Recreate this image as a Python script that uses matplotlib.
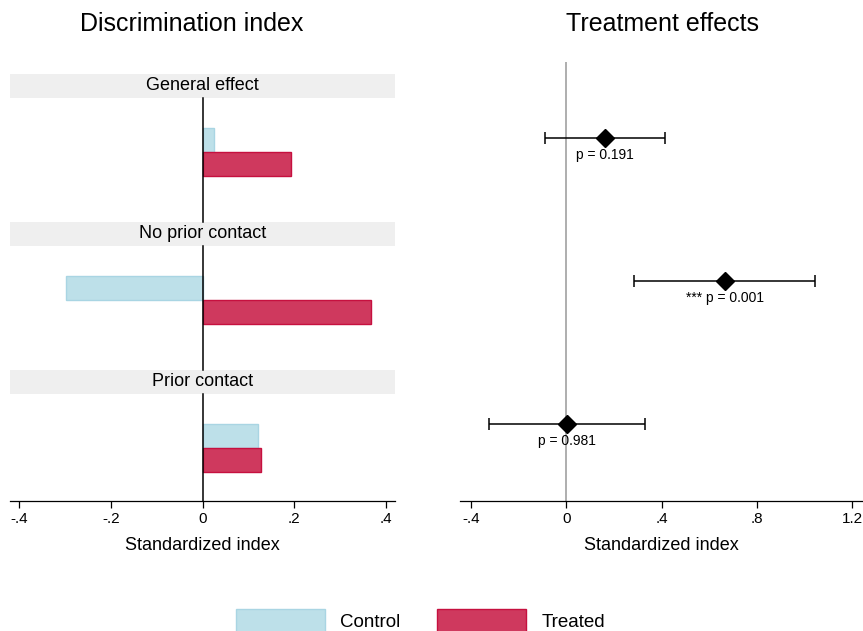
import matplotlib
matplotlib.use("Agg")
from matplotlib import pyplot as plt
from matplotlib.patches import Rectangle

plt.rcParams['font.family'] = ['Liberation Sans', 'DejaVu Sans']

# Data
groups = ["General effect", "No prior contact", "Prior contact"]
control = [0.024, -0.297, 0.122]
treated = [0.192, 0.367, 0.127]

effects = [0.163, 0.666, 0.004]
ci_low = [-0.088, 0.285, -0.322]
ci_high = [0.415, 1.043, 0.331]
p_labels = ["p = 0.191", "*** p = 0.001", "p = 0.981"]

left_ticks = [-0.4, -0.2, 0, 0.2, 0.4]
left_ticklabels = ["-.4", "-.2", "0", ".2", ".4"]
right_ticks = [-0.4, 0, 0.4, 0.8, 1.2]
right_ticklabels = ["-.4", "0", ".4", ".8", "1.2"]

# Colours
CONTROL_FILL = '#bde0e9'
CONTROL_EDGE = '#a9d5e3'
TREATED_FILL = '#cf395e'
TREATED_EDGE = '#c6103f'
STRIP = '#efefef'

W, H = 863, 631
fig = plt.figure(figsize=(W / 100, H / 100), dpi=100)

def px_axes(x0, y0, x1, y1):
    # pixel box (top-left origin) -> figure fraction
    return fig.add_axes([x0 / W, 1 - y1 / H, (x1 - x0) / W, (y1 - y0) / H])

# ---- Left panel: discrimination index
axl = px_axes(10, 74, 395, 501)
strip_h = 24 / 148
bar_h = 24 / 148
bar_off = 54 / 148
bottom = 427 / 148
axl.set_xlim(-0.42, 0.42)
axl.set_ylim(bottom, 0)

for i, g in enumerate(groups):
    axl.add_patch(Rectangle((-0.42, i), 0.84, strip_h, facecolor=STRIP,
                            edgecolor='none', zorder=1))
    axl.text(0, i + strip_h / 2, g, ha='center', va='center', fontsize=13)
    end = i + 1 if i < len(groups) - 1 else bottom
    axl.plot([0, 0], [i + strip_h, end], color='black', lw=1.1, zorder=3)
    axl.barh(i + bar_off + bar_h / 2, control[i], height=bar_h, left=0,
             color=CONTROL_FILL, edgecolor=CONTROL_EDGE, lw=1, zorder=2)
    axl.barh(i + bar_off + 1.5 * bar_h, treated[i], height=bar_h, left=0,
             color=TREATED_FILL, edgecolor=TREATED_EDGE, lw=1, zorder=2)

for s in ['top', 'right', 'left']:
    axl.spines[s].set_visible(False)
axl.spines['bottom'].set_linewidth(0.9)
axl.set_yticks([])
axl.set_xticks(left_ticks)
axl.set_xticklabels(left_ticklabels, fontsize=11)
axl.tick_params(axis='x', length=5, width=0.9, pad=3)
axl.set_xlabel("Standardized index", fontsize=13, labelpad=8)
fig.text(192 / W, 1 - 24 / H, "Discrimination index", ha='center', va='center',
         fontsize=18)

# ---- Right panel: treatment effects
axr = px_axes(460, 62, 862, 501)
axr.set_xlim(-0.445, 1.24)
axr.set_ylim(3.038, -0.031)
axr.axvline(0, color='#999999', lw=1.1, zorder=1)
for i in range(len(groups)):
    y = i + 0.5
    axr.errorbar(effects[i], y, xerr=[[effects[i] - ci_low[i]], [ci_high[i] - effects[i]]],
                 fmt='D', color='black', ms=9, elinewidth=1.1, capsize=4.5,
                 capthick=1.1, zorder=3)
    axr.text(effects[i], y + 0.12, p_labels[i], ha='center', va='center',
             fontsize=10)

for s in ['top', 'right', 'left']:
    axr.spines[s].set_visible(False)
axr.spines['bottom'].set_linewidth(0.9)
axr.set_yticks([])
axr.set_xticks(right_ticks)
axr.set_xticklabels(right_ticklabels, fontsize=11)
axr.tick_params(axis='x', length=5, width=0.9, pad=3)
axr.set_xlabel("Standardized index", fontsize=13, labelpad=8)
fig.text(662 / W, 1 - 24 / H, "Treatment effects", ha='center', va='center',
         fontsize=18)

# ---- Legend
handles = [Rectangle((0, 0), 1, 1, facecolor=CONTROL_FILL, edgecolor=CONTROL_EDGE),
           Rectangle((0, 0), 1, 1, facecolor=TREATED_FILL, edgecolor=TREATED_EDGE)]
fig.legend(handles, ["Control", "Treated"], loc='lower center', ncol=2,
           bbox_to_anchor=(0.487, -0.028), frameon=False, fontsize=13.5,
           handlelength=4.75, handleheight=1.5, handletextpad=0.8,
           columnspacing=2.0)

fig.savefig("out.png", dpi=100)
